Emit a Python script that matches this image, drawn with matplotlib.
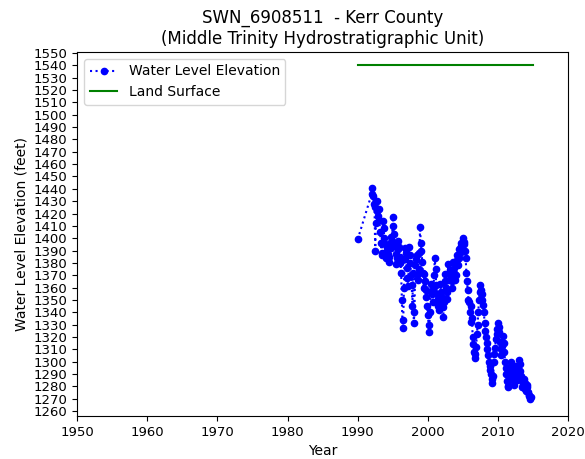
import numpy as np
from matplotlib import pyplot as plt

# water level measurements (decimal year, feet)
years = [1990.0,
         1992.0, 1992.1, 1992.2, 1992.3, 1992.4, 1992.5, 1992.6, 1992.7, 1992.8, 1992.9,
         1993.0, 1993.1, 1993.2, 1993.3, 1993.4, 1993.5, 1993.6, 1993.7, 1993.8, 1993.9,
         1994.0, 1994.1, 1994.2, 1994.3, 1994.4, 1994.5, 1994.6, 1994.7, 1994.8, 1994.9,
         1995.0, 1995.1, 1995.2, 1995.3, 1995.4, 1995.5, 1995.6, 1995.7, 1995.8, 1995.9,
         1996.0, 1996.1, 1996.2, 1996.3, 1996.4, 1996.5, 1996.6, 1996.7, 1996.8, 1996.9,
         1997.0, 1997.1, 1997.2, 1997.3, 1997.4, 1997.5, 1997.6, 1997.7, 1997.8, 1997.9,
         1998.0, 1998.1, 1998.2, 1998.3, 1998.4, 1998.5, 1998.6, 1998.7, 1998.8, 1998.9,
         1999.0, 1999.1, 1999.2, 1999.3, 1999.4, 1999.5, 1999.6, 1999.7, 1999.8, 1999.9,
         2000.0, 2000.1, 2000.2, 2000.3, 2000.4, 2000.5, 2000.6, 2000.7, 2000.8, 2000.9,
         2001.0, 2001.1, 2001.2, 2001.3, 2001.4, 2001.5, 2001.6, 2001.7, 2001.8, 2001.9,
         2002.0, 2002.1, 2002.2, 2002.3, 2002.4, 2002.5, 2002.6, 2002.7, 2002.8, 2002.9,
         2003.0, 2003.1, 2003.2, 2003.3, 2003.4, 2003.5, 2003.6, 2003.7, 2003.8, 2003.9,
         2004.0, 2004.1, 2004.2, 2004.3, 2004.4, 2004.5, 2004.6, 2004.7, 2004.8, 2004.9,
         2005.0, 2005.1, 2005.2, 2005.3, 2005.4, 2005.5, 2005.6, 2005.7, 2005.8, 2005.9,
         2006.0, 2006.1, 2006.2, 2006.3, 2006.4, 2006.5, 2006.6, 2006.7, 2006.8, 2006.9,
         2007.0, 2007.1, 2007.2, 2007.3, 2007.4, 2007.5, 2007.6, 2007.7, 2007.8, 2007.9,
         2008.0, 2008.1, 2008.2, 2008.3, 2008.4, 2008.5, 2008.6, 2008.7, 2008.8, 2008.9,
         2009.0, 2009.1, 2009.2, 2009.3, 2009.4, 2009.5, 2009.6, 2009.7, 2009.8, 2009.9,
         2010.0, 2010.1, 2010.2, 2010.3, 2010.4, 2010.5, 2010.6, 2010.7, 2010.8, 2010.9,
         2011.0, 2011.1, 2011.2, 2011.3, 2011.4, 2011.5, 2011.6, 2011.7, 2011.8, 2011.9,
         2012.0, 2012.1, 2012.2, 2012.3, 2012.4, 2012.5, 2012.6, 2012.7, 2012.8, 2012.9,
         2013.0, 2013.1, 2013.2, 2013.3, 2013.4, 2013.5, 2013.6, 2013.7, 2013.8, 2013.9,
         2014.0, 2014.1, 2014.2, 2014.3, 2014.4, 2014.5, 2014.6, 2014.7]
levels = [1399,
          1436, 1441, 1434, 1428, 1425, 1390, 1412, 1430, 1422, 1418,
          1424, 1415, 1405, 1396, 1386, 1388, 1414, 1408, 1400, 1395,
          1384, 1389, 1393, 1387, 1381, 1385, 1396, 1392, 1401, 1398,
          1417, 1410, 1403, 1395, 1387, 1379, 1384, 1391, 1398, 1393,
          1385, 1380, 1372, 1350, 1327, 1334, 1360, 1392, 1383, 1388,
          1376, 1368, 1361, 1393, 1386, 1380, 1370, 1362, 1345, 1372,
          1331, 1340, 1378, 1383, 1386, 1370, 1366, 1375, 1388, 1409,
          1396, 1390, 1381, 1372, 1360, 1371, 1365, 1352, 1358, 1345,
          1338, 1330, 1324, 1340, 1356, 1363, 1355, 1348, 1358, 1370,
          1384, 1375, 1362, 1355, 1351, 1345, 1342, 1350, 1363, 1356,
          1352, 1344, 1336, 1348, 1371, 1365, 1360, 1351, 1356, 1379,
          1366, 1372, 1374, 1368, 1360, 1365, 1381, 1376, 1372, 1366,
          1370, 1386, 1382, 1378, 1384, 1391, 1388, 1394, 1396, 1392,
          1400, 1397, 1395, 1390, 1384, 1372, 1365, 1358, 1350, 1348,
          1340, 1332, 1345, 1335, 1320, 1314, 1308, 1303, 1306, 1312,
          1322, 1330, 1340, 1350, 1356, 1362, 1358, 1355, 1350, 1346,
          1340, 1331, 1325, 1320, 1315, 1310, 1305, 1300, 1296, 1293,
          1290, 1286, 1283, 1288, 1300, 1306, 1311, 1318, 1322, 1326,
          1331, 1328, 1324, 1316, 1310, 1305, 1313, 1321, 1315, 1308,
          1300, 1295, 1290, 1284, 1280, 1279, 1285, 1291, 1296, 1300,
          1294, 1289, 1285, 1281, 1290, 1296, 1291, 1285, 1289, 1295,
          1301, 1298, 1292, 1288, 1284, 1279, 1282, 1286, 1283, 1278,
          1276, 1281, 1279, 1275, 1273, 1272, 1270, 1271]

land_years = [1990, 2015]
land_elev = [1540, 1540]

fig = plt.figure(figsize=(5.85, 4.59), dpi=100)
ax = fig.add_axes([0.132, 0.094, 0.839, 0.793])
ax.plot(years, levels, ':', marker='o', markersize=4.5, color='blue', label='Water Level Elevation')
ax.plot(land_years, land_elev, '-', color='green', label='Land Surface')
ax.set_xlim(1950, 2020)
ax.set_ylim(1256, 1551)
ax.set_yticks(np.arange(1260, 1551, 10))
ax.tick_params(labelsize=9.5)
ax.set_xlabel('Year', fontsize=10)
ax.set_ylabel('Water Level Elevation (feet)', fontsize=10)
ax.set_title('SWN_6908511  - Kerr County\n(Middle Trinity Hydrostratigraphic Unit)', fontsize=12)
ax.legend(loc='upper left', fontsize=10)
fig.savefig('out.png')
